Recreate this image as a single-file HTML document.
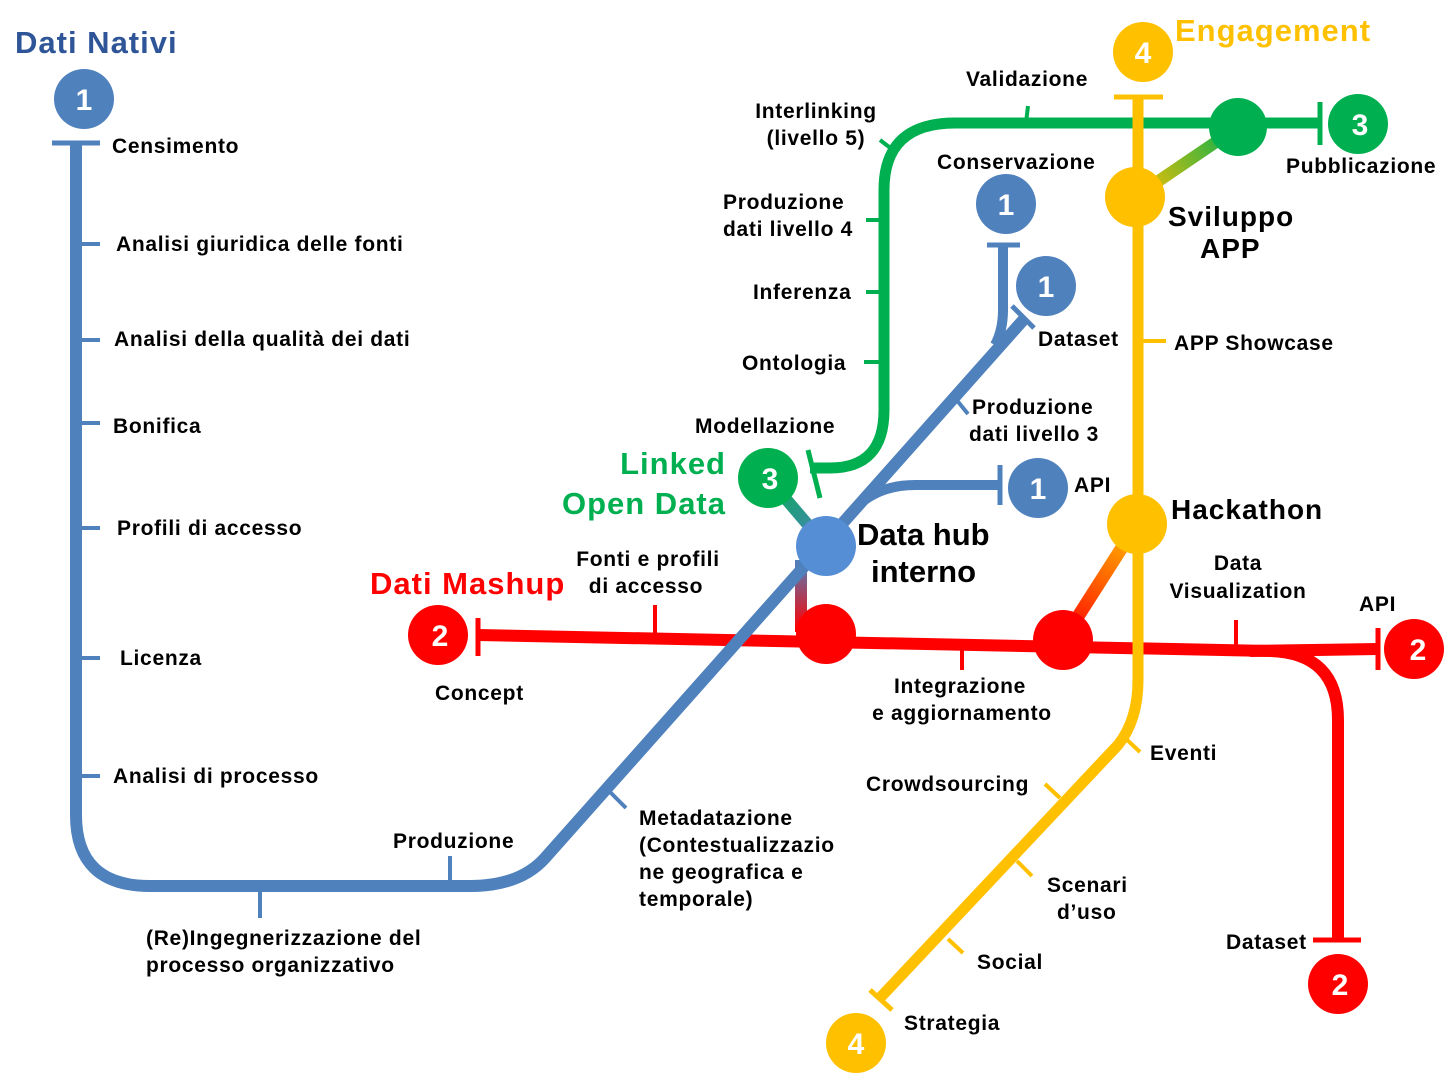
<!DOCTYPE html>
<html><head><meta charset="utf-8"><style>
html,body{margin:0;padding:0;background:#fff;}
svg{display:block;font-family:"Liberation Sans",Arial,sans-serif;font-weight:bold;}
.t{font-size:21px;fill:#000;letter-spacing:0.7px;}
.n{font-size:30px;fill:#fff;text-anchor:middle;}
.h{letter-spacing:1px;}
</style></head><body>
<svg width="1456" height="1073" viewBox="0 0 1456 1073" xmlns="http://www.w3.org/2000/svg">
<defs>
<linearGradient id="gy" x1="1238" y1="127" x2="1135" y2="197" gradientUnits="userSpaceOnUse"><stop offset="0" stop-color="#00b050"/><stop offset="1" stop-color="#ffc000"/></linearGradient>
<linearGradient id="gb" x1="768" y1="478" x2="826" y2="546" gradientUnits="userSpaceOnUse"><stop offset="0" stop-color="#00b050"/><stop offset="1" stop-color="#4f81bd"/></linearGradient>
<linearGradient id="gr" x1="0" y1="560" x2="0" y2="630" gradientUnits="userSpaceOnUse"><stop offset="0" stop-color="#4f81bd"/><stop offset="1" stop-color="#ff0000"/></linearGradient>
<linearGradient id="go" x1="1137" y1="524" x2="1063" y2="640" gradientUnits="userSpaceOnUse"><stop offset="0" stop-color="#ffc000"/><stop offset="1" stop-color="#ff0000"/></linearGradient>
</defs>

<!-- RED line -->
<g stroke="#ff0000" fill="none">
<path d="M478 635 L1270 651 Q1338 653 1338 720 L1338 940" stroke-width="12"/>
<path d="M1250 651 L1378 649" stroke-width="12"/>
<line x1="478" y1="618" x2="478" y2="656" stroke-width="5"/>
<line x1="1378" y1="628" x2="1378" y2="670" stroke-width="5"/>
<line x1="1313" y1="940" x2="1361" y2="940" stroke-width="5"/>
<line x1="655" y1="605" x2="655" y2="634" stroke-width="4"/>
<line x1="962" y1="645" x2="962" y2="670" stroke-width="4"/>
<line x1="1236" y1="620" x2="1236" y2="646" stroke-width="4"/>
</g>
<line x1="801" y1="560" x2="801" y2="632" stroke="url(#gr)" stroke-width="12"/>

<!-- BLUE line -->
<g stroke="#4f81bd" fill="none">
<path d="M76 143 L76 815 Q76 886 150 886 L470 886 Q520 886 545 858 L1025 318" stroke-width="12"/>
<path d="M995 345 Q1003 330 1003 310 L1003 245" stroke-width="10"/>
<path d="M845 520 Q870 485 915 485 L1000 485" stroke-width="10"/>
<line x1="52" y1="143" x2="100" y2="143" stroke-width="5"/>
<line x1="987" y1="245" x2="1020" y2="245" stroke-width="5"/>
<line x1="1000" y1="465" x2="1000" y2="505" stroke-width="5"/>
<line x1="1012" y1="306" x2="1034" y2="328" stroke-width="5"/>
<g stroke-width="4">
<line x1="76" y1="244" x2="100" y2="244"/>
<line x1="76" y1="340" x2="100" y2="340"/>
<line x1="76" y1="423" x2="100" y2="423"/>
<line x1="76" y1="528" x2="100" y2="528"/>
<line x1="76" y1="658" x2="100" y2="658"/>
<line x1="76" y1="776" x2="100" y2="776"/>
<line x1="260" y1="886" x2="260" y2="918"/>
<line x1="450" y1="856" x2="450" y2="886"/>
<line x1="608" y1="790" x2="626" y2="808"/>
<line x1="955" y1="398" x2="968" y2="414"/>
</g>
</g>

<!-- GREEN line -->
<g stroke="#00b050" fill="none">
<path d="M810 468 L830 468 Q884 468 884 410 L884 190 Q884 123 955 123 L1320 123" stroke-width="11"/>
<line x1="1320" y1="102" x2="1320" y2="145" stroke-width="5"/>
<line x1="808" y1="450" x2="820" y2="498" stroke-width="5"/>
<g stroke-width="4">
<line x1="866" y1="220" x2="884" y2="220"/>
<line x1="866" y1="292" x2="884" y2="292"/>
<line x1="864" y1="362" x2="884" y2="362"/>
<line x1="880" y1="140" x2="893" y2="150"/>
<line x1="1028" y1="106" x2="1026" y2="123"/>
</g>
</g>
<line x1="1238" y1="127" x2="1135" y2="197" stroke="url(#gy)" stroke-width="12"/>
<line x1="768" y1="478" x2="826" y2="546" stroke="url(#gb)" stroke-width="12"/>

<!-- YELLOW line -->
<g stroke="#ffc000" fill="none">
<path d="M1138 97 L1138 680 Q1138 720 1118 745 L878 1000" stroke-width="11"/>
<line x1="1114" y1="97" x2="1163" y2="97" stroke-width="5"/>
<line x1="870" y1="990" x2="892" y2="1010" stroke-width="5"/>
<g stroke-width="4">
<line x1="1138" y1="341" x2="1166" y2="341"/>
<line x1="1124" y1="737" x2="1140" y2="752"/>
<line x1="1045" y1="784" x2="1060" y2="798"/>
<line x1="1017" y1="861" x2="1032" y2="876"/>
<line x1="948" y1="939" x2="963" y2="953"/>
</g>
</g>
<line x1="1137" y1="524" x2="1063" y2="640" stroke="url(#go)" stroke-width="13"/>

<!-- Nodes -->
<circle cx="826" cy="546" r="30" fill="#558ed5"/>
<circle cx="826" cy="634" r="30" fill="#ff0000"/>
<circle cx="1063" cy="640" r="30" fill="#ff0000"/>
<circle cx="1238" cy="127" r="29" fill="#00b050"/>
<circle cx="1135" cy="197" r="30" fill="#ffc000"/>
<circle cx="1137" cy="524" r="30" fill="#ffc000"/>

<!-- Badges -->
<circle cx="84" cy="99" r="30" fill="#4f81bd"/><text class="n" x="84" y="110">1</text>
<circle cx="1006" cy="204" r="30" fill="#4f81bd"/><text class="n" x="1006" y="215">1</text>
<circle cx="1046" cy="286" r="30" fill="#4f81bd"/><text class="n" x="1046" y="297">1</text>
<circle cx="1038" cy="488" r="30" fill="#4f81bd"/><text class="n" x="1038" y="499">1</text>
<circle cx="1358" cy="124" r="30" fill="#00b050"/><text class="n" x="1360" y="135">3</text>
<circle cx="768" cy="478" r="30" fill="#00b050"/><text class="n" x="770" y="489">3</text>
<circle cx="1143" cy="52" r="30" fill="#ffc000"/><text class="n" x="1143" y="63">4</text>
<circle cx="856" cy="1043" r="30" fill="#ffc000"/><text class="n" x="856" y="1054">4</text>
<circle cx="438" cy="635" r="30" fill="#ff0000"/><text class="n" x="440" y="646">2</text>
<circle cx="1414" cy="649" r="30" fill="#ff0000"/><text class="n" x="1418" y="660">2</text>
<circle cx="1338" cy="984" r="30" fill="#ff0000"/><text class="n" x="1340" y="995">2</text>

<!-- Titles -->
<text class="h" x="15" y="53" font-size="31" fill="#2e5597">Dati Nativi</text>
<text class="h" x="1175" y="41" font-size="31" fill="#ffc000">Engagement</text>
<text class="h" x="370" y="594" font-size="31" fill="#ff0000">Dati Mashup</text>
<text class="h" x="726" y="474" font-size="31" fill="#00b050" text-anchor="end">Linked</text>
<text class="h" x="726" y="514" font-size="31" fill="#00b050" text-anchor="end">Open Data</text>
<text x="857" y="545" font-size="31">Data hub</text>
<text x="871" y="582" font-size="31">interno</text>
<text class="h" x="1168" y="226" font-size="28">Sviluppo</text>
<text class="h" x="1200" y="258" font-size="28">APP</text>
<text class="h" x="1171" y="519" font-size="28">Hackathon</text>

<!-- Labels -->
<g class="t">
<text x="112" y="153">Censimento</text>
<text x="116" y="251">Analisi giuridica delle fonti</text>
<text x="114" y="346">Analisi della qualità dei dati</text>
<text x="113" y="433">Bonifica</text>
<text x="117" y="535">Profili di accesso</text>
<text x="120" y="665">Licenza</text>
<text x="113" y="783">Analisi di processo</text>
<text x="393" y="848">Produzione</text>
<text x="146" y="945">(Re)Ingegnerizzazione del</text>
<text x="146" y="972">processo organizzativo</text>
<text x="639" y="825">Metadatazione</text>
<text x="639" y="852">(Contestualizzazio</text>
<text x="639" y="879">ne geografica e</text>
<text x="639" y="906">temporale)</text>
<text x="435" y="700">Concept</text>
<text x="648" y="566" text-anchor="middle">Fonti e profili</text>
<text x="646" y="593" text-anchor="middle">di accesso</text>
<text x="960" y="693" text-anchor="middle">Integrazione</text>
<text x="962" y="720" text-anchor="middle">e aggiornamento</text>
<text x="1238" y="570" text-anchor="middle">Data</text>
<text x="1238" y="598" text-anchor="middle">Visualization</text>
<text x="1359" y="611">API</text>
<text x="1226" y="949">Dataset</text>
<text x="1150" y="760">Eventi</text>
<text x="866" y="791">Crowdsourcing</text>
<text x="1047" y="892">Scenari</text>
<text x="1057" y="919">d’uso</text>
<text x="977" y="969">Social</text>
<text x="904" y="1030">Strategia</text>
<text x="1174" y="350">APP Showcase</text>
<text x="1038" y="346">Dataset</text>
<text x="972" y="414">Produzione</text>
<text x="969" y="441">dati livello 3</text>
<text x="1074" y="492">API</text>
<text x="937" y="169">Conservazione</text>
<text x="966" y="86">Validazione</text>
<text x="1286" y="173">Pubblicazione</text>
<text x="816" y="118" text-anchor="middle">Interlinking</text>
<text x="816" y="145" text-anchor="middle">(livello 5)</text>
<text x="723" y="209">Produzione</text>
<text x="723" y="236">dati livello 4</text>
<text x="753" y="299">Inferenza</text>
<text x="742" y="370">Ontologia</text>
<text x="695" y="433">Modellazione</text>
</g>
</svg>
</body></html>
